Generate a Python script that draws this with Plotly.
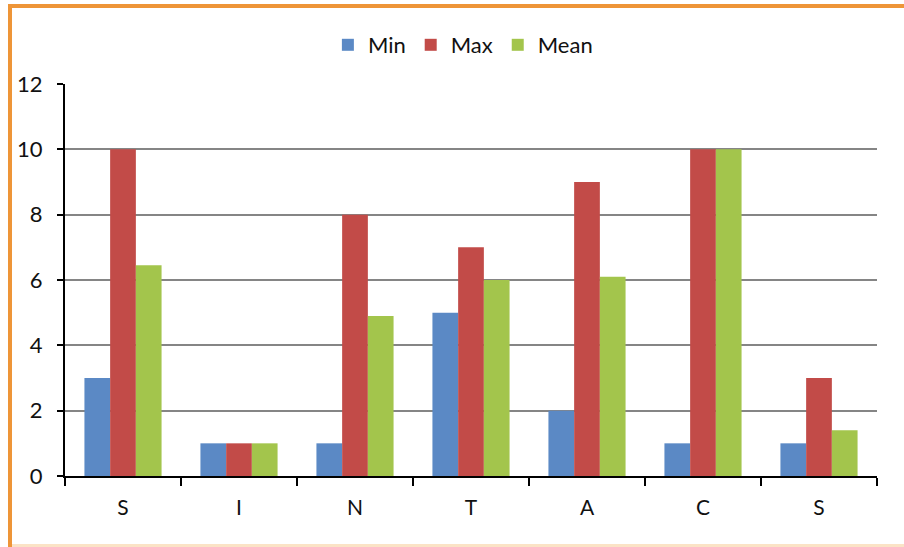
import plotly.graph_objects as go

# Chart data
categories = ["S", "I", "N", "T", "A", "C", "S"]
min_vals = [3, 1, 1, 5, 2, 1, 1]
max_vals = [10, 1, 8, 7, 9, 10, 3]
mean_vals = [6.45, 1, 4.9, 6, 6.1, 10, 1.4]

series = [
    ("Min", min_vals, "#5B89C5"),
    ("Max", max_vals, "#C24B48"),
    ("Mean", mean_vals, "#A3C54C"),
]

W, H = 904, 547
L, R, T, B = 65, 27, 84, 71
pw, ph = W - L - R, H - T - B

def px_x(x):
    return (x - L) / pw

def px_y(y):
    return (H - B - y) / ph

positions = list(range(len(categories)))
fig = go.Figure()
for name, vals, color in series:
    fig.add_trace(go.Bar(
        x=positions, y=vals, name=name,
        marker=dict(color=color, line=dict(width=0)),
    ))

font = "Lato, 'Open Sans', sans-serif"
orange = "#EE9538"

fig.update_layout(
    width=W, height=H,
    margin=dict(l=L, r=R, t=T, b=B),
    paper_bgcolor="white", plot_bgcolor="white",
    barmode="group", bargap=0.335, bargroupgap=0,
    font=dict(family=font, size=21, color="#111111"),
    legend=dict(
        orientation="h", x=0.49, xanchor="center", y=px_y(45), yanchor="middle",
        font=dict(size=22), itemwidth=30, traceorder="normal",
    ),
    xaxis=dict(
        range=[-0.5, len(categories) - 0.5],
        tickmode="array", tickvals=positions, ticktext=categories,
        ticks="", showgrid=False, zeroline=False,
        showline=True, linecolor="#000000", linewidth=2,
        minor=dict(
            tickmode="array",
            tickvals=[p - 0.5 for p in positions] + [len(categories) - 0.5],
            ticks="outside", ticklen=8, tickwidth=2, tickcolor="#000000",
            showgrid=False,
        ),
        tickfont=dict(size=21),
        ticklabelstandoff=12,
    ),
    yaxis=dict(
        range=[0, 12], dtick=2, tick0=0,
        showgrid=True, gridcolor="#858585", gridwidth=1.6,
        zeroline=False,
        showline=True, linecolor="#000000", linewidth=2,
        ticks="outside", ticklen=6, tickwidth=2, tickcolor="#000000",
        tickfont=dict(size=22),
        ticklabelstandoff=10,
    ),
    showlegend=True,
)

# Frame around the chart
shapes = [
    dict(type="line", xref="paper", yref="paper",
         x0=px_x(8), x1=px_x(904), y0=px_y(6), y1=px_y(6),
         line=dict(color=orange, width=4)),
    dict(type="line", xref="paper", yref="paper",
         x0=px_x(10), x1=px_x(10), y0=px_y(4), y1=px_y(547),
         line=dict(color=orange, width=4)),
    dict(type="line", xref="paper", yref="paper",
         x0=px_x(12), x1=px_x(904), y0=px_y(545.5), y1=px_y(545.5),
         line=dict(color="#FBE3C6", width=3)),
]
fig.update_layout(shapes=shapes)

fig.write_html("out.html")
